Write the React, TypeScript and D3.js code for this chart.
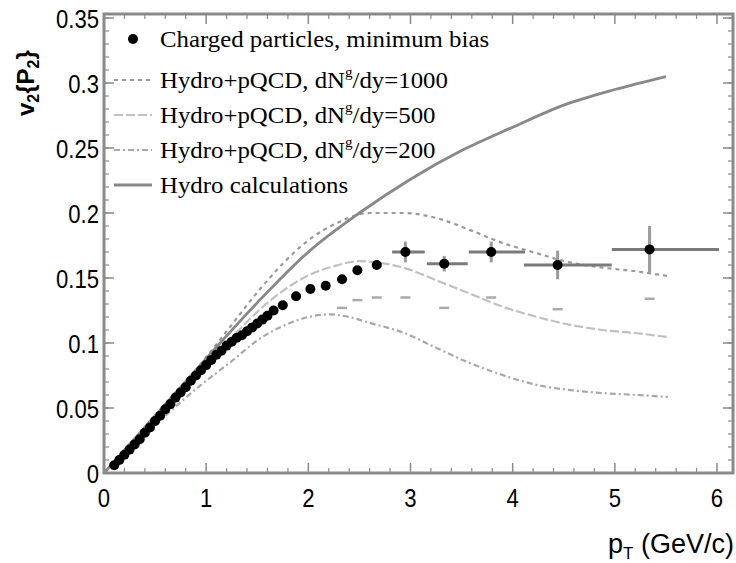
import React from "react";
import * as d3 from "d3";

// ---- data ----
const densePt = [0.10, 0.15, 0.20, 0.25, 0.30, 0.35, 0.40, 0.45, 0.50, 0.55, 0.60, 0.65, 0.70, 0.75, 0.80, 0.85, 0.90, 0.95, 1.00, 1.05, 1.10, 1.15, 1.20, 1.25, 1.30, 1.35, 1.40, 1.45, 1.50, 1.55, 1.60, 1.66, 1.75, 1.88, 2.02, 2.17, 2.33, 2.48, 2.67];
const denseV2 = [0.006, 0.010, 0.014, 0.018, 0.022, 0.026, 0.031, 0.035, 0.040, 0.044, 0.049, 0.053, 0.058, 0.062, 0.066, 0.071, 0.075, 0.079, 0.083, 0.087, 0.091, 0.094, 0.098, 0.101, 0.104, 0.106, 0.109, 0.112, 0.115, 0.118, 0.121, 0.125, 0.129, 0.136, 0.1415, 0.144, 0.149, 0.156, 0.160];

const sparsePt = [2.95, 3.33, 3.79, 4.44, 5.34];
const sparseV2 = [0.170, 0.161, 0.170, 0.160, 0.172];
const sparseXLo = [2.82, 3.16, 3.57, 4.11, 4.97];
const sparseXHi = [3.14, 3.56, 4.12, 4.97, 6.02];
const sparseErr = [0.008, 0.006, 0.008, 0.011, 0.018];

const sysPt = [2.33, 2.48, 2.67, 2.95, 3.33, 3.79, 4.44, 5.34];
const sysLow = [0.127, 0.133, 0.135, 0.135, 0.127, 0.135, 0.126, 0.134];

const hydroPt = [0, 0.5, 1.0, 1.5, 2.0, 2.5, 3.0, 3.5, 4.0, 4.5, 5.0, 5.5];
const hydroV2 = [0, 0.044, 0.088, 0.131, 0.170, 0.200, 0.226, 0.248, 0.266, 0.283, 0.295, 0.305];

const q1000Pt = [0, 0.5, 1.0, 1.25, 1.5, 1.75, 2.0, 2.3, 2.6, 2.93, 3.26, 3.58, 3.9, 4.24, 4.56, 4.88, 5.22, 5.52];
const q1000V2 = [0, 0.043, 0.089, 0.114, 0.139, 0.161, 0.179, 0.193, 0.200, 0.200, 0.196, 0.187, 0.177, 0.169, 0.162, 0.158, 0.155, 0.1515];

const q500Pt = [0, 0.5, 1.0, 1.25, 1.5, 1.75, 2.0, 2.25, 2.5, 2.75, 2.93, 3.26, 3.58, 3.9, 4.24, 4.56, 4.88, 5.22, 5.52];
const q500V2 = [0, 0.041, 0.083, 0.104, 0.124, 0.140, 0.152, 0.159, 0.163, 0.161, 0.158, 0.148, 0.138, 0.128, 0.120, 0.114, 0.110, 0.1075, 0.1045];

const q200Pt = [0, 0.5, 1.0, 1.25, 1.5, 1.75, 2.0, 2.2, 2.4, 2.6, 2.93, 3.26, 3.58, 3.9, 4.24, 4.56, 4.88, 5.22, 5.52];
const q200V2 = [0, 0.037, 0.071, 0.086, 0.102, 0.113, 0.12, 0.122, 0.12, 0.1155, 0.108, 0.096, 0.0846, 0.0754, 0.0677, 0.0638, 0.0615, 0.060, 0.0585];

const xTicks = [0, 1, 2, 3, 4, 5, 6];
const yTicks = [0, 0.05, 0.1, 0.15, 0.2, 0.25, 0.3, 0.35];
const yTickLabels = ["0", "0.05", "0.1", "0.15", "0.2", "0.25", "0.3", "0.35"];

const legendLabels = [
  "Charged particles, minimum bias",
  "Hydro+pQCD, dN",
  "Hydro+pQCD, dN",
  "Hydro+pQCD, dN",
  "Hydro calculations",
];
const legendTails = ["", "/dy=1000", "/dy=500", "/dy=200", ""];

export default function App() {
  const W = 736, H = 563;
  const L = 104, R = 733, T = 14, B = 473;
  const x = d3.scaleLinear().domain([0, 6]).range([L, 717]);
  const y = d3.scaleLinear().domain([0, 0.35]).range([B, 18]);

  const line = d3.line<[number, number]>().x(d => x(d[0])).y(d => y(d[1])).curve(d3.curveMonotoneX);
  const mk = (a: number[], b: number[]) => a.map((v, i) => [v, b[i]] as [number, number]);

  const frame = "#8a8a8a";
  const minorX = d3.range(0, 6.2, 0.2).filter(v => Math.abs(v - Math.round(v)) > 1e-6);
  const minorY = d3.range(0, 0.351, 0.01);

  const serif = "'Liberation Serif', 'DejaVu Serif', serif";
  const sans = "'Liberation Sans', Arial, sans-serif";

  const legendBase = [47, 88, 123, 158, 193];
  const lineStyles = [
    null,
    { dash: "4,4", color: "#9a9a9a", w: 2.2 },
    { dash: "9,3", color: "#c0c0c0", w: 2.2 },
    { dash: "6,3,2,3", color: "#a8a8a8", w: 2.2 },
    { dash: "", color: "#888888", w: 2.8 },
  ];

  return (
    <svg width={W} height={H} style={{ position: "absolute", left: 0, top: 0, background: "#fff" }}>
      {/* curves */}
      <path d={line(mk(q200Pt, q200V2)) || ""} fill="none" stroke="#a8a8a8" strokeWidth={2.2} strokeDasharray="6,3,2,3" />
      <path d={line(mk(q500Pt, q500V2)) || ""} fill="none" stroke="#c0c0c0" strokeWidth={2.2} strokeDasharray="9,3" />
      <path d={line(mk(q1000Pt, q1000V2)) || ""} fill="none" stroke="#9a9a9a" strokeWidth={2.2} strokeDasharray="4,4" />
      <path d={line(mk(hydroPt, hydroV2)) || ""} fill="none" stroke="#888" strokeWidth={2.8} />

      {/* systematic lower marks */}
      {sysPt.map((p, i) => (
        <line key={"s" + i} x1={x(p) - 5} x2={x(p) + 5} y1={y(sysLow[i])} y2={y(sysLow[i])} stroke="#aaa" strokeWidth={2.5} />
      ))}

      {/* error bars */}
      {sparsePt.map((p, i) => (
        <g key={"e" + i}>
          <line x1={x(sparseXLo[i])} x2={x(sparseXHi[i])} y1={y(sparseV2[i])} y2={y(sparseV2[i])} stroke="#7a7a7a" strokeWidth={3} />
          <line x1={x(p)} x2={x(p)} y1={y(sparseV2[i] - sparseErr[i])} y2={y(sparseV2[i] + sparseErr[i])} stroke="#9a9a9a" strokeWidth={3} />
        </g>
      ))}

      {/* data points */}
      {densePt.map((p, i) => (
        <circle key={"d" + i} cx={x(p)} cy={y(denseV2[i])} r={5} fill="#000" />
      ))}
      {sparsePt.map((p, i) => (
        <circle key={"p" + i} cx={x(p)} cy={y(sparseV2[i])} r={5} fill="#000" />
      ))}

      {/* frame */}
      <rect x={L} y={T} width={R - L} height={B - T} fill="none" stroke={frame} strokeWidth={3} />
      {xTicks.map(t => (
        <g key={"xt" + t}>
          <line x1={x(t)} x2={x(t)} y1={B} y2={B - 10} stroke={frame} strokeWidth={1.5} />
          <line x1={x(t)} x2={x(t)} y1={T} y2={T + 10} stroke={frame} strokeWidth={1.5} />
          <text transform={`translate(${x(t)},${B + 34}) scale(0.85,1)`} textAnchor="middle" fontFamily={sans} fontSize={26}>{t}</text>
        </g>
      ))}
      {minorX.map((t, i) => (
        <g key={"xm" + i}>
          <line x1={x(t)} x2={x(t)} y1={B} y2={B - 5} stroke={frame} strokeWidth={1.2} />
          <line x1={x(t)} x2={x(t)} y1={T} y2={T + 5} stroke={frame} strokeWidth={1.2} />
        </g>
      ))}
      {minorY.map((t, i) => (
        <g key={"ym" + i}>
          <line x1={L} x2={L + 5} y1={y(t)} y2={y(t)} stroke={frame} strokeWidth={1.2} />
          <line x1={R} x2={R - 5} y1={y(t)} y2={y(t)} stroke={frame} strokeWidth={1.2} />
        </g>
      ))}
      {yTicks.map((t, i) => (
        <g key={"yt" + i}>
          <line x1={L} x2={L + 10} y1={y(t)} y2={y(t)} stroke={frame} strokeWidth={1.5} />
          <line x1={R} x2={R - 10} y1={y(t)} y2={y(t)} stroke={frame} strokeWidth={1.5} />
          <text transform={`translate(${L - 5},${y(t) + 10}) scale(0.85,1)`} textAnchor="end" fontFamily={sans} fontSize={26}>{yTickLabels[i]}</text>
        </g>
      ))}

      {/* axis titles */}
      <text x={734} y={553} textAnchor="end" fontFamily={sans} fontSize={27}>
        p<tspan fontSize={17} dy={6}>T</tspan><tspan dy={-6}> (GeV/c)</tspan>
      </text>
      <text transform="translate(34,116) rotate(-90)" fontFamily={sans} fontSize={24} fontWeight="bold">
        v<tspan fontSize={16} dy={5}>2</tspan><tspan dy={-5}>{"{P"}</tspan><tspan fontSize={16} dy={5}>2</tspan><tspan dy={-5}>{"}"}</tspan>
      </text>

      {/* legend */}
      {legendLabels.map((lab, i) => {
        const lb = legendBase[i];
        const ly = lb - 8;
        const st = lineStyles[i];
        return (
          <g key={"lg" + i}>
            {st ? (
              <line x1={114} x2={152} y1={ly} y2={ly} stroke={st.color} strokeWidth={st.w} strokeDasharray={st.dash} />
            ) : (
              <circle cx={133} cy={ly} r={5} fill="#000" />
            )}
            <text transform={`translate(160,${lb}) scale(1.08,1)`} fontFamily={serif} fontSize={23}>
              {lab}
              {legendTails[i] ? (
                <>
                  <tspan fontSize={14} dy={-11}>g</tspan>
                  <tspan dy={11}>{legendTails[i]}</tspan>
                </>
              ) : null}
            </text>
          </g>
        );
      })}
    </svg>
  );
}
